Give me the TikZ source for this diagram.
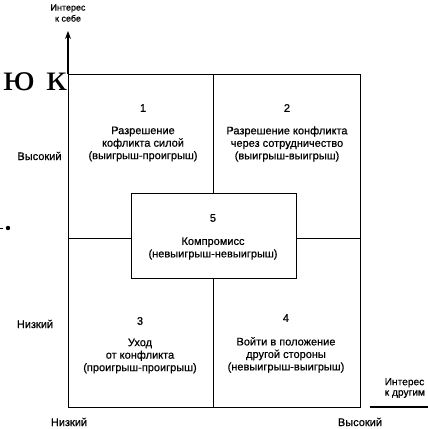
\documentclass[tikz,border=0pt]{standalone}
\usepackage{fontspec}
\setmainfont{Liberation Sans}[FakeBold=0.6]
\newfontfamily\scanserif{Liberation Serif}
\usetikzlibrary{arrows.meta}
\begin{document}
\begin{tikzpicture}[x=1pt,y=-1pt,
  line/.style={line width=1.3pt},
  quad/.style={draw, line width=1.3pt, inner sep=0pt, anchor=north west},
  qtext/.style={font=\fontsize{11}{12.5}\selectfont, align=center, inner sep=0pt},
  qnum/.style={font=\fontsize{11}{12.5}\selectfont, inner sep=0pt},
  axlabel/.style={font=\fontsize{11}{12}\selectfont, inner sep=0pt},
  axtitle/.style={font=\fontsize{9}{11}\selectfont, align=center, inner sep=0pt}]
\fill[white] (0,0) rectangle (428,429);
\useasboundingbox (0,0) rectangle (428,429);
% quadrants
\node[quad, minimum width=145pt, minimum height=164pt] (q1) at (68,74) {};
\node[quad, minimum width=147pt, minimum height=164pt] (q2) at (213,74) {};
\node[quad, minimum width=145pt, minimum height=169pt] (q3) at (68,238) {};
\node[quad, minimum width=147pt, minimum height=169pt] (q4) at (213,238) {};
\node[quad, fill=white, minimum width=165pt, minimum height=85pt] (q5) at (131,193) {};
% quadrant texts
\node[qnum] (n1) at (143,108) {1};
\node[qtext] (t1) at (143,144) {Разрешение\\кофликта силой\\(выигрыш-проигрыш)};
\node[qnum] (n2) at (287,108) {2};
\node[qtext] (t2) at (287,144) {Разрешение конфликта\\через сотрудничество\\(выигрыш-выигрыш)};
\node[qnum] (n5) at (213,218) {5};
\node[qtext] (t5) at (213,248.5) {Компромисс\\(невыигрыш-невыигрыш)};
\node[qnum] (n3) at (140,321) {3};
\node[qtext] (t3) at (140,356) {Уход\\от конфликта\\(проигрыш-проигрыш)};
\node[qnum] (n4) at (286,318) {4};
\node[qtext] (t4) at (286,355) {Войти в положение\\другой стороны\\(невыигрыш-выигрыш)};
% axes
\coordinate (ytip) at (68,31);
\draw[line, -{Stealth[length=8pt,width=6pt]}] (q1.north west) -- (ytip);
\coordinate (xs) at (370,407);
\coordinate (xe) at (432,407);
\draw[line] (xs) -- (xe);
\node[axtitle] (ytitle) at (68,13) {Интерес\\к себе};
\node[font=\fontsize{10.2}{10.5}\selectfont, align=left, inner sep=0pt, anchor=west] (xtitle) at (384.5,388) {Интерес\\к другим};
\node[axlabel] (yhigh) at (39.5,156) {Высокий};
\node[axlabel] (ylow) at (35,324) {Низкий};
\node[axlabel] (xlow) at (69,422) {Низкий};
\node[axlabel] (xhigh) at (360,422) {Высокий};
% scan residue
\node[font=\scanserif\fontsize{38}{38}\selectfont, inner sep=0pt, anchor=base east] (scan) at (67,90) {\scalebox{1.12}[1]{ю к}};
\fill (8,228) circle (2.2);
\draw[line width=1pt] (0,228) -- (3,228);
\end{tikzpicture}
\end{document}
